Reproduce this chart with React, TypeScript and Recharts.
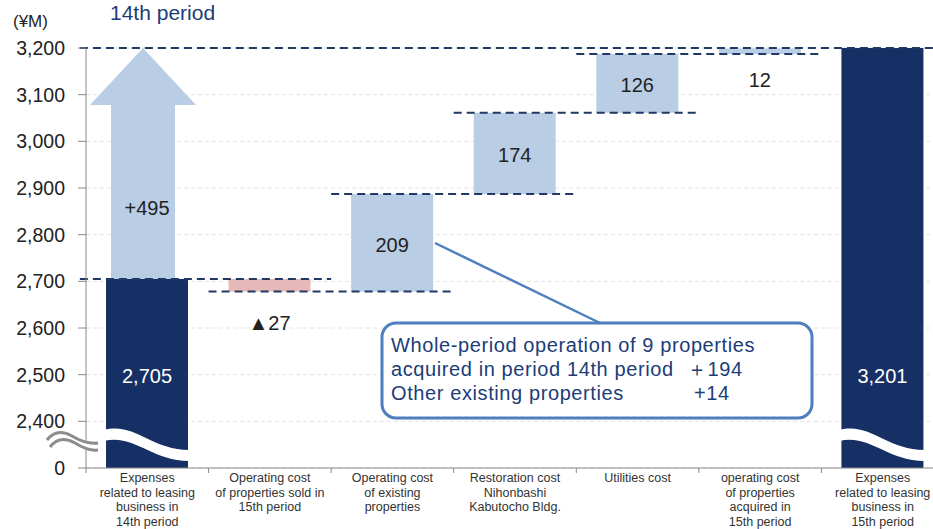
import React from 'react';
import {
  BarChart,
  Bar,
  XAxis,
  YAxis,
  CartesianGrid,
  ReferenceLine,
  LabelList,
  Rectangle,
} from 'recharts';

// Category labels (multi-line, split on \n)
const categories = [
  'Expenses\nrelated to leasing\nbusiness in\n14th period',
  'Operating cost\nof properties sold in\n15th period',
  'Operating cost\nof existing\nproperties',
  'Restoration cost\nNihonbashi\nKabutocho Bldg.',
  'Utilities cost',
  'operating cost\nof properties\nacquired in\n15th period',
  'Expenses\nrelated to leasing\nbusiness in\n15th period',
];

// Waterfall pieces (¥M)
const offsets = [0, 2678, 2678, 2887, 3061, 3187, 0];
const totals = [2705, 0, 0, 0, 0, 0, 3201];
const decreases = [0, 27, 0, 0, 0, 0, 0];
const increases = [495, 0, 209, 174, 126, 12, 0];

// y axis: broken at the bottom, 2,300 is shown as "0"
const yTicks = [2300, 2400, 2500, 2600, 2700, 2800, 2900, 3000, 3100, 3200];
const yBreak = 2300;

// category boundaries (tick marks) and centres (labels) on a 0..7 scale
const xTicks = [0, 0.5, 1, 1.5, 2, 2.5, 3, 3.5, 4, 4.5, 5, 5.5, 6, 6.5, 7];
const centres = [0.5, 1.5, 2.5, 3.5, 4.5, 5.5, 6.5];

// dashed connectors between steps
const connectors = [
  { value: 3200, from: -0.05, to: 7 },
  { value: 2705, from: -0.05, to: 2 },
  { value: 2678, from: 1, to: 3 },
  { value: 2887, from: 2, to: 4 },
  { value: 3061, from: 3, to: 5 },
  { value: 3187, from: 4, to: 6 },
];

const NAVY = '#162f64';
const LIGHT = '#b9cde5';
const PINK = '#e6b9b8';
const DASH = '#1f3864';
const CALLOUT = '#4f7fbe';
const TEXT_BLUE = '#203c78';
const FONT = '"Liberation Sans", Arial, sans-serif';

const CHART_W = 944;
const CHART_H = 529;
const X_AXIS_H = 61;
const PLOT_BOTTOM = CHART_H - X_AXIS_H;

const data = categories.map((name, i) => ({
  name,
  pos: centres[i],
  offset: offsets[i],
  total: totals[i],
  down: decreases[i],
  up: increases[i],
}));

function TotalShape(props: any) {
  const { x, y, width, height, fill } = props;
  if (!height) return null;
  const B = Math.min(y + height, PLOT_BOTTOM);
  const w = width;
  const wave = `M${x - 2},${B - 38} C${x + w * 0.35},${B - 46} ${x + w * 0.55},${B - 18} ${x + w + 1},${B - 18}
    L${x + w + 1},${B - 7} C${x + w * 0.55},${B - 7} ${x + w * 0.35},${B - 34} ${x - 2},${B - 27} Z`;
  return (
    <g>
      <rect x={x} y={y} width={width} height={B - y} fill={fill} />
      <path d={wave} fill="#ffffff" />
    </g>
  );
}

function UpShape(props: any) {
  const { x, y, width, height, fill, index } = props;
  if (!height) return null;
  if (index === 0) {
    const cx = x + width / 2 - 4;
    const headH = 57;
    const bottom = y + height;
    const d = `M${cx - 32},${bottom} L${cx - 32},${y + headH} L${cx - 53},${y + headH} L${cx},${y}
      L${cx + 53},${y + headH} L${cx + 32},${y + headH} L${cx + 32},${bottom} Z`;
    return <path d={d} fill={fill} />;
  }
  return <Rectangle x={x} y={y} width={width} height={height} fill={fill} />;
}

function PlainShape(props: any) {
  if (!props.height) return null;
  return <Rectangle {...props} />;
}

function TotalLabel(p: any) {
  const { x, width } = p.viewBox ?? p;
  if (!p.value) return null;
  return (
    <text
      x={x + width / 2}
      y={PLOT_BOTTOM - 92}
      dy="0.35em"
      textAnchor="middle"
      fill="#ffffff"
      fontSize={20}
      fontFamily={FONT}
    >
      {Number(p.value).toLocaleString('en-US')}
    </text>
  );
}

function UpLabel(p: any) {
  const { x, y, width, height } = p.viewBox ?? p;
  if (!p.value) return null;
  let ty = y + height / 2 + 2;
  let txt = String(p.value);
  if (p.index === 0) {
    ty = y + 160;
    txt = `+${p.value}`;
  } else if (p.index === 5) {
    ty = y + height + 26;
  }
  return (
    <text x={x + width / 2} y={ty} dy="0.35em" textAnchor="middle" fill="#222" fontSize={20} fontFamily={FONT}>
      {txt}
    </text>
  );
}

function DownLabel(p: any) {
  const { x, y, width, height } = p.viewBox ?? p;
  if (!p.value) return null;
  return (
    <text x={x + width / 2} y={y + height + 31} dy="0.35em" textAnchor="middle" fill="#222" fontSize={20} fontFamily={FONT}>
      ▲{p.value}
    </text>
  );
}

function CategoryTick(props: any) {
  const { x, y, payload } = props;
  const v = payload.value;
  if (Number.isInteger(v)) {
    return <line x1={x} x2={x} y1={y} y2={y + 5} stroke="#888" />;
  }
  const lines = categories[Math.floor(v)].split('\n');
  return (
    <text textAnchor="middle" fill="#333" fontSize={12.5} fontFamily={FONT}>
      {lines.map((l, k) => (
        <tspan key={k} x={x} y={y + 14 + k * 14.5}>
          {l}
        </tspan>
      ))}
    </text>
  );
}

export default function App() {
  return (
    <div
      style={{
        position: 'absolute',
        left: 0,
        top: 0,
        width: 933,
        height: 529,
        overflow: 'hidden',
        background: '#fff',
      }}
    >
      <BarChart
        width={CHART_W}
        height={CHART_H}
        data={data}
        margin={{ top: 48, right: 0, bottom: 0, left: 0 }}
        barSize={82}
      >
        <CartesianGrid xAxisId="n" vertical={false} stroke="#e4e4e4" strokeDasharray="4 3" />
        <XAxis
          xAxisId="n"
          dataKey="pos"
          type="number"
          domain={[0, 7]}
          ticks={xTicks}
          interval={0}
          height={X_AXIS_H}
          tickLine={false}
          tickSize={0}
          tickMargin={0}
          stroke="#888"
          tick={<CategoryTick />}
          allowDataOverflow
        />
        <XAxis xAxisId="cat" dataKey="name" hide height={0} />
        <YAxis
          domain={[yBreak, 3200]}
          ticks={yTicks}
          allowDataOverflow
          width={86}
          stroke="#888"
          tickSize={8}
          tickMargin={13}
          tick={{ fill: '#222', fontSize: 19.5, fontFamily: FONT }}
          tickFormatter={(v: number) => (v === yBreak ? '0' : v.toLocaleString('en-US'))}
        />
        <Bar xAxisId="cat" dataKey="offset" stackId="w" fill="transparent" isAnimationActive={false} />
        <Bar xAxisId="cat" dataKey="total" stackId="w" fill={NAVY} shape={TotalShape} isAnimationActive={false}>
          <LabelList dataKey="total" content={TotalLabel} />
        </Bar>
        <Bar xAxisId="cat" dataKey="down" stackId="w" fill={PINK} shape={PlainShape} isAnimationActive={false}>
          <LabelList dataKey="down" content={DownLabel} />
        </Bar>
        <Bar xAxisId="cat" dataKey="up" stackId="w" fill={LIGHT} shape={UpShape} isAnimationActive={false}>
          <LabelList dataKey="up" content={UpLabel} />
        </Bar>
        {connectors.map((c, i) => (
          <ReferenceLine
            key={i}
            xAxisId="n"
            segment={[
              { x: c.from, y: c.value },
              { x: c.to, y: c.value },
            ]}
            stroke={DASH}
            strokeWidth={2}
            strokeDasharray="8 5"
            ifOverflow="visible"
          />
        ))}
      </BarChart>

      <svg
        width={933}
        height={529}
        style={{ position: 'absolute', left: 0, top: 0, pointerEvents: 'none' }}
        fontFamily={FONT}
      >
        <text x={110} y={20} fontSize={21} fill={TEXT_BLUE}>
          14th period
        </text>
        <text x={13} y={27} fontSize={17} fill="#222">
          (¥M)
        </text>

        {/* axis break mark */}
        <path d="M47,443 C54,434 63,434 72,439 C80,444 88,447 98,446" stroke="#fff" strokeWidth={9} fill="none" />
        <path d="M47,440 C54,431 63,431 72,436 C80,441 88,444 98,443" stroke="#8c8c8c" strokeWidth={3} fill="none" />
        <path d="M50,447 C57,438 66,438 75,443 C83,448 90,451 98,450" stroke="#8c8c8c" strokeWidth={3} fill="none" />

        {/* callout */}
        <line x1={435} y1={243} x2={600} y2={323} stroke={CALLOUT} strokeWidth={2.5} />
        <rect x={382} y={323} width={430} height={95} rx={14} ry={14} fill="#fff" stroke={CALLOUT} strokeWidth={3} />
        <g fontSize={20} fill={TEXT_BLUE} letterSpacing={0.6}>
          <text x={391} y={352}>Whole-period operation of 9 properties</text>
          <text x={391} y={376}>acquired in period 14th period</text>
          <text x={687} y={376}>＋194</text>
          <text x={391} y={400}>Other existing properties</text>
          <text x={694} y={400}>+14</text>
        </g>
      </svg>
    </div>
  );
}
